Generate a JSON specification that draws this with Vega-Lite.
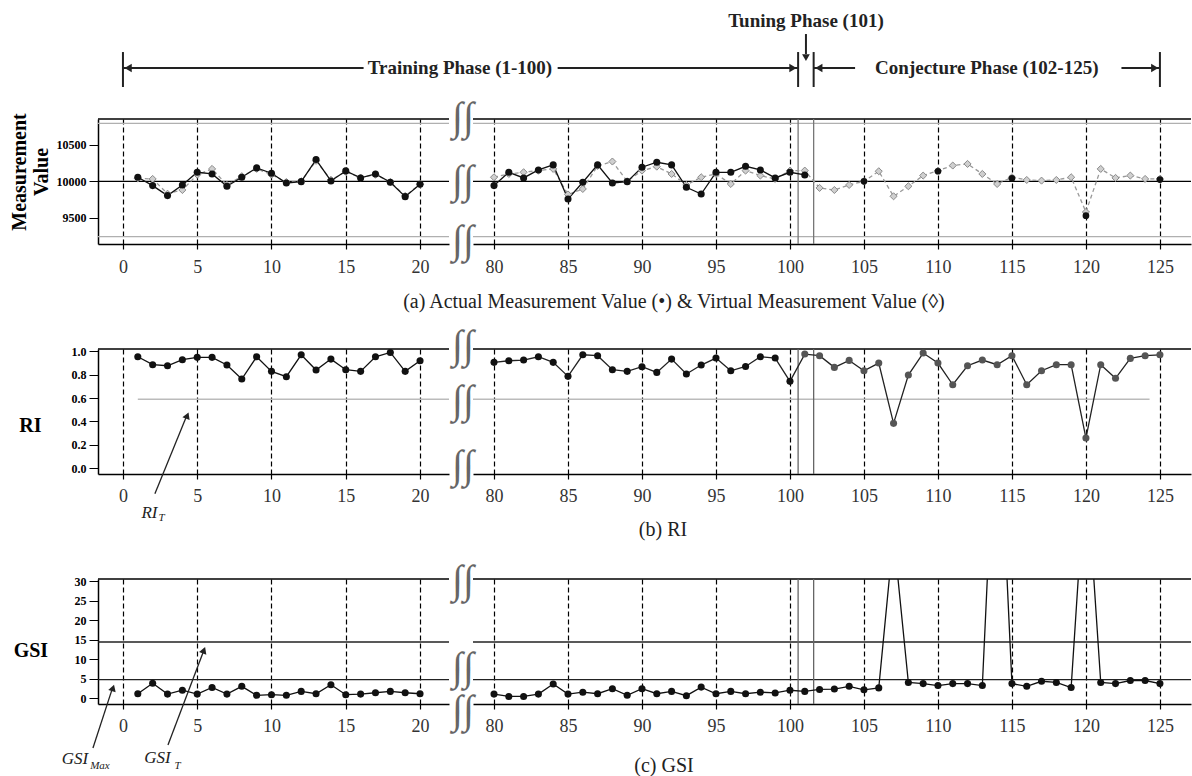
{
"$schema":"https://vega.github.io/schema/vega-lite/v6.json",
"padding":{"left":9,"top":12,"right":0,"bottom":0},
"background":"#ffffff",
"config":{"view":{"stroke":null},"font":"Liberation Serif"},
"datasets":{
"one":[{"id":1}],
"act":[{"x":1,"v":10055},{"x":2,"v":9941},{"x":3,"v":9804},{"x":4,"v":9950},{"x":5,"v":10123},{"x":6,"v":10100},{"x":7,"v":9932},{"x":8,"v":10055},{"x":9,"v":10183},{"x":10,"v":10110},{"x":11,"v":9977},{"x":12,"v":9995},{"x":13,"v":10297},{"x":14,"v":10005},{"x":15,"v":10142},{"x":16,"v":10046},{"x":17,"v":10100},{"x":18,"v":9986},{"x":19,"v":9790},{"x":20,"v":9959},
{"x":80,"v":9941},{"x":81,"v":10123},{"x":82,"v":10046},{"x":83,"v":10155},{"x":84,"v":10224},{"x":85,"v":9758},{"x":86,"v":9986},{"x":87,"v":10224},{"x":88,"v":9977},{"x":89,"v":9995},{"x":90,"v":10192},{"x":91,"v":10260},{"x":92,"v":10224},{"x":93,"v":9918},{"x":94,"v":9826},{"x":95,"v":10123},{"x":96,"v":10123},{"x":97,"v":10205},{"x":98,"v":10155},{"x":99,"v":10046},{"x":100,"v":10123},{"x":101,"v":10087}],
"virt":[{"x":1,"v":10040},{"x":2,"v":10032},{"x":3,"v":9830},{"x":4,"v":9881},{"x":5,"v":10090},{"x":6,"v":10169},{"x":7,"v":9950},{"x":8,"v":10070},{"x":9,"v":10170},{"x":10,"v":10090},{"x":11,"v":9990},{"x":12,"v":10000},{"x":13,"v":10280},{"x":14,"v":10020},{"x":15,"v":10130},{"x":16,"v":10050},{"x":17,"v":10090},{"x":18,"v":9990},{"x":19,"v":9800},{"x":20,"v":9960},
{"x":80,"v":10055},{"x":81,"v":10100},{"x":82,"v":10123},{"x":83,"v":10146},{"x":84,"v":10169},{"x":85,"v":9820},{"x":86,"v":9895},{"x":87,"v":10210},{"x":88,"v":10270},{"x":89,"v":10000},{"x":90,"v":10146},{"x":91,"v":10200},{"x":92,"v":10100},{"x":93,"v":9950},{"x":94,"v":10055},{"x":95,"v":10100},{"x":96,"v":9963},{"x":97,"v":10146},{"x":98,"v":10078},{"x":99,"v":10032},{"x":100,"v":10146},{"x":101,"v":10146},
{"x":102,"v":9909},{"x":103,"v":9881},{"x":104,"v":9950},{"x":105,"v":10000},{"x":106,"v":10137},{"x":107,"v":9795},{"x":108,"v":9932},{"x":109,"v":10078},{"x":110,"v":10146},{"x":111,"v":10215},{"x":112,"v":10237},{"x":113,"v":10100},{"x":114,"v":9963},{"x":115,"v":10055},{"x":116,"v":10018},{"x":117,"v":10009},{"x":118,"v":10018},{"x":119,"v":10055},{"x":120,"v":9580},{"x":121,"v":10169},{"x":122,"v":10046},{"x":123,"v":10078},{"x":124,"v":10032},{"x":125,"v":10032}],
"samp":[{"x":105,"v":10000},{"x":110,"v":10137},{"x":115,"v":10041},{"x":120,"v":9530},{"x":125,"v":10023}],
"ri":[{"x":1,"v":0.954},{"x":2,"v":0.886},{"x":3,"v":0.877},{"x":4,"v":0.929},{"x":5,"v":0.949},{"x":6,"v":0.949},{"x":7,"v":0.883},{"x":8,"v":0.763},{"x":9,"v":0.954},{"x":10,"v":0.829},{"x":11,"v":0.783},{"x":12,"v":0.971},{"x":13,"v":0.84},{"x":14,"v":0.934},{"x":15,"v":0.843},{"x":16,"v":0.829},{"x":17,"v":0.954},{"x":18,"v":0.991},{"x":19,"v":0.829},{"x":20,"v":0.92},
{"x":80,"v":0.906},{"x":81,"v":0.92},{"x":82,"v":0.926},{"x":83,"v":0.954},{"x":84,"v":0.906},{"x":85,"v":0.786},{"x":86,"v":0.971},{"x":87,"v":0.963},{"x":88,"v":0.843},{"x":89,"v":0.829},{"x":90,"v":0.869},{"x":91,"v":0.82},{"x":92,"v":0.934},{"x":93,"v":0.806},{"x":94,"v":0.883},{"x":95,"v":0.943},{"x":96,"v":0.834},{"x":97,"v":0.871},{"x":98,"v":0.954},{"x":99,"v":0.943},{"x":100,"v":0.743},{"x":101,"v":0.977},{"x":102,"v":0.963},{"x":103,"v":0.863},{"x":104,"v":0.923},{"x":105,"v":0.834},{"x":106,"v":0.9},{"x":107,"v":0.383},{"x":108,"v":0.797},{"x":109,"v":0.986},{"x":110,"v":0.9},{"x":111,"v":0.714},{"x":112,"v":0.877},{"x":113,"v":0.926},{"x":114,"v":0.886},{"x":115,"v":0.963},{"x":116,"v":0.714},{"x":117,"v":0.834},{"x":118,"v":0.886},{"x":119,"v":0.886},{"x":120,"v":0.257},{"x":121,"v":0.886},{"x":122,"v":0.769},{"x":123,"v":0.94},{"x":124,"v":0.963},{"x":125,"v":0.971}],
"gsi":[{"x":1,"v":1.1},{"x":2,"v":3.8},{"x":3,"v":1.0},{"x":4,"v":2.0},{"x":5,"v":1.0},{"x":6,"v":2.7},{"x":7,"v":1.0},{"x":8,"v":3.0},{"x":9,"v":0.7},{"x":10,"v":0.85},{"x":11,"v":0.7},{"x":12,"v":1.7},{"x":13,"v":1.1},{"x":14,"v":3.4},{"x":15,"v":0.85},{"x":16,"v":1.0},{"x":17,"v":1.35},{"x":18,"v":1.7},{"x":19,"v":1.35},{"x":20,"v":1.1},
{"x":80,"v":1.0},{"x":81,"v":0.4},{"x":82,"v":0.4},{"x":83,"v":1.0},{"x":84,"v":3.6},{"x":85,"v":1.0},{"x":86,"v":1.5},{"x":87,"v":1.1},{"x":88,"v":2.4},{"x":89,"v":0.7},{"x":90,"v":2.4},{"x":91,"v":1.1},{"x":92,"v":1.7},{"x":93,"v":0.6},{"x":94,"v":2.8},{"x":95,"v":1.1},{"x":96,"v":1.7},{"x":97,"v":1.1},{"x":98,"v":1.5},{"x":99,"v":1.3},{"x":100,"v":2.0},{"x":101,"v":1.7},{"x":102,"v":2.2},{"x":103,"v":2.3},{"x":104,"v":3.0},{"x":105,"v":2.1},{"x":106,"v":2.6},{"x":107,"v":42},{"x":108,"v":4.0},{"x":109,"v":3.7},{"x":110,"v":3.2},{"x":111,"v":3.7},{"x":112,"v":3.7},{"x":113,"v":3.2},{"x":114,"v":85},{"x":115,"v":3.7},{"x":116,"v":3.0},{"x":117,"v":4.3},{"x":118,"v":4.0},{"x":119,"v":2.7},{"x":120,"v":61},{"x":121,"v":4.0},{"x":122,"v":3.7},{"x":123,"v":4.5},{"x":124,"v":4.5},{"x":125,"v":3.7}]
},
"columns":2,
"spacing":{"row":105,"column":24},
"bounds":"flush",
"concat":[
 {"width":351,"height":125,"layer":[
  {"data":{"name":"one"},"mark":{"type":"rule","color":"#000","strokeWidth":1.5},"encoding":{"y":{"datum":10851}}},
  {"data":{"name":"one"},"mark":{"type":"rule","color":"#000","strokeWidth":1.3},"encoding":{"y":{"datum":10000}}},
  {"data":{"name":"one"},"mark":{"type":"rule","color":"#b0b0b0","strokeWidth":1.3},"encoding":{"y":{"datum":10792}}},
  {"data":{"name":"one"},"mark":{"type":"rule","color":"#b0b0b0","strokeWidth":1.3},"encoding":{"y":{"datum":9243}}},
  {"data":{"name":"virt"},"transform":[{"filter":"datum.x <= 20"}],"mark":{"type":"line","color":"#999","strokeDash":[4,3],"strokeWidth":1.3},"encoding":{"x":{"field":"x","type":"quantitative"},"y":{"field":"v","type":"quantitative"}}},
  {"data":{"name":"act"},"transform":[{"filter":"datum.x <= 20"}],"mark":{"type":"line","color":"#111","strokeWidth":1.3},
   "encoding":{"x":{"field":"x","type":"quantitative","scale":{"domain":[-1.68,21.95],"nice":false,"zero":false},"axis":{"values":[0,5,10,15,20],"tickCount":20,"title":null,"grid":true,"gridColor":"#000","gridDash":[5,3],"gridWidth":1.2,"gridOpacity":1,"domain":true,"domainColor":"#000","domainWidth":1.5,"ticks":true,"tickColor":"#000","tickSize":5,"tickWidth":1.2,"labels":true,"labelOverlap":false,"labelFontSize":18,"labelColor":"#333","labelPadding":9,"labelFont":"Liberation Serif"}},
   "y":{"field":"v","type":"quantitative","scale":{"domain":[9143,10851],"nice":false,"zero":false},"axis":{"values":[9500,10000,10500],"tickCount":20,"format":"d","title":null,"labels":true,"labelOverlap":false,"labelFont":"Liberation Serif","labelFontSize":12,"labelFontWeight":"bold","labelColor":"#000","ticks":true,"tickColor":"#000","tickSize":9,"labelPadding":3,"domain":true,"domainColor":"#000","domainWidth":1.5,"grid":false}}}},
  {"data":{"name":"virt"},"transform":[{"filter":"datum.x <= 20"}],"mark":{"type":"point","shape":"diamond","filled":true,"fill":"#cfcfcf","stroke":"#8a8a8a","strokeWidth":1,"size":50,"opacity":1},"encoding":{"x":{"field":"x","type":"quantitative"},"y":{"field":"v","type":"quantitative"}}},
  {"data":{"name":"act"},"transform":[{"filter":"datum.x <= 20"}],"mark":{"type":"circle","color":"#111","size":50,"opacity":1},"encoding":{"x":{"field":"x","type":"quantitative"},"y":{"field":"v","type":"quantitative"}}},
  {"data":{"name":"one"},"mark":{"type":"text","text":"Measurement","angle":270,"fontSize":20,"fontWeight":"bold","font":"Liberation Serif","color":"#000","baseline":"middle","align":"center"},"encoding":{"x":{"datum":-6.94},"y":{"datum":10127}}},
  {"data":{"name":"one"},"mark":{"type":"text","text":"Value","angle":270,"fontSize":20,"fontWeight":"bold","font":"Liberation Serif","color":"#000","baseline":"middle","align":"center"},"encoding":{"x":{"datum":-5.45},"y":{"datum":10127}}},
  {"data":{"name":"one"},"mark":{"type":"rule","color":"#222","strokeWidth":2},"encoding":{"x":{"datum":0},"y":{"datum":11288},"y2":{"datum":11766}}},
  {"data":{"name":"one"},"mark":{"type":"rule","color":"#222","strokeWidth":2},"encoding":{"x":{"datum":0},"x2":{"datum":16.2},"y":{"datum":11548}}},
  {"data":{"name":"one"},"mark":{"type":"point","shape":"triangle-left","filled":true,"size":70,"color":"#222","opacity":1},"encoding":{"x":{"datum":0.35},"y":{"datum":11548}}},
  {"data":{"name":"one"},"mark":{"type":"text","text":"Training Phase (1-100)","fontSize":19,"fontWeight":"bold","font":"Liberation Serif","color":"#222","baseline":"middle","align":"center"},"encoding":{"x":{"datum":22.69},"y":{"datum":11548}}}
 ]},
 {"width":718,"height":125,"layer":[
  {"data":{"name":"one"},"mark":{"type":"rule","color":"#000","strokeWidth":1.5},"encoding":{"y":{"datum":10851}}},
  {"data":{"name":"one"},"mark":{"type":"rule","color":"#000","strokeWidth":1.3},"encoding":{"y":{"datum":10000}}},
  {"data":{"name":"one"},"mark":{"type":"rule","color":"#b0b0b0","strokeWidth":1.3},"encoding":{"y":{"datum":10792}}},
  {"data":{"name":"one"},"mark":{"type":"rule","color":"#b0b0b0","strokeWidth":1.3},"encoding":{"y":{"datum":9243}}},
  {"data":{"name":"one"},"mark":{"type":"rule","color":"#777","strokeWidth":1.3},"encoding":{"x":{"datum":100.55}}},
  {"data":{"name":"one"},"mark":{"type":"rule","color":"#777","strokeWidth":1.3},"encoding":{"x":{"datum":101.6}}},
  {"data":{"name":"virt"},"transform":[{"filter":"datum.x >= 80"}],"mark":{"type":"line","color":"#999","strokeDash":[4,3],"strokeWidth":1.3},"encoding":{"x":{"field":"x","type":"quantitative"},"y":{"field":"v","type":"quantitative"}}},
  {"data":{"name":"act"},"transform":[{"filter":"datum.x >= 80"}],"mark":{"type":"line","color":"#111","strokeWidth":1.3},
   "encoding":{"x":{"field":"x","type":"quantitative","scale":{"domain":[78.58,127.1],"nice":false,"zero":false},"axis":{"values":[80,85,90,95,100,105,110,115,120,125],"tickCount":30,"title":null,"grid":true,"gridColor":"#000","gridDash":[5,3],"gridWidth":1.2,"gridOpacity":1,"domain":true,"domainColor":"#000","domainWidth":1.5,"ticks":true,"tickColor":"#000","tickSize":5,"tickWidth":1.2,"labels":true,"labelOverlap":false,"labelFontSize":18,"labelColor":"#333","labelPadding":9,"labelFont":"Liberation Serif"}},
   "y":{"field":"v","type":"quantitative","scale":{"domain":[9143,10851],"nice":false,"zero":false},"axis":{"title":null,"domain":false,"ticks":false,"labels":false,"grid":false}}}},
  {"data":{"name":"virt"},"transform":[{"filter":"datum.x >= 80"}],"mark":{"type":"point","shape":"diamond","filled":true,"fill":"#cfcfcf","stroke":"#8a8a8a","strokeWidth":1,"size":50,"opacity":1},"encoding":{"x":{"field":"x","type":"quantitative"},"y":{"field":"v","type":"quantitative"}}},
  {"data":{"name":"act"},"transform":[{"filter":"datum.x >= 80"}],"mark":{"type":"circle","color":"#111","size":50,"opacity":1},"encoding":{"x":{"field":"x","type":"quantitative"},"y":{"field":"v","type":"quantitative"}}},
  {"data":{"name":"samp"},"mark":{"type":"circle","color":"#111","size":45,"opacity":1},"encoding":{"x":{"field":"x","type":"quantitative"},"y":{"field":"v","type":"quantitative"}}},
  {"data":{"name":"one"},"mark":{"type":"text","text":"∫∫","fontSize":40,"fontStyle":"italic","font":"Liberation Serif","color":"#666","baseline":"middle","align":"center","dx":-10},"encoding":{"x":{"datum":78.58},"y":{"datum":10860}}},
  {"data":{"name":"one"},"mark":{"type":"text","text":"∫∫","fontSize":40,"fontStyle":"italic","font":"Liberation Serif","color":"#666","baseline":"middle","align":"center","dx":-10},"encoding":{"x":{"datum":78.58},"y":{"datum":10000}}},
  {"data":{"name":"one"},"mark":{"type":"text","text":"∫∫","fontSize":40,"fontStyle":"italic","font":"Liberation Serif","color":"#666","baseline":"middle","align":"center","dx":-10},"encoding":{"x":{"datum":78.58},"y":{"datum":9190}}},
  {"data":{"name":"one"},"mark":{"type":"rule","color":"#222","strokeWidth":2},"encoding":{"x":{"datum":84.3},"x2":{"datum":100.55},"y":{"datum":11548}}},
  {"data":{"name":"one"},"mark":{"type":"point","shape":"triangle-right","filled":true,"size":70,"color":"#222","opacity":1},"encoding":{"x":{"datum":100.2},"y":{"datum":11548}}},
  {"data":{"name":"one"},"mark":{"type":"rule","color":"#222","strokeWidth":2},"encoding":{"x":{"datum":100.55},"y":{"datum":11288},"y2":{"datum":11766}}},
  {"data":{"name":"one"},"mark":{"type":"rule","color":"#222","strokeWidth":2},"encoding":{"x":{"datum":101.6},"y":{"datum":11288},"y2":{"datum":11766}}},
  {"data":{"name":"one"},"mark":{"type":"rule","color":"#222","strokeWidth":2},"encoding":{"x":{"datum":101.08},"y":{"datum":12012},"y2":{"datum":11739}}},
  {"data":{"name":"one"},"mark":{"type":"point","shape":"triangle-down","filled":true,"size":60,"color":"#222","opacity":1},"encoding":{"x":{"datum":101.08},"y":{"datum":11690}}},
  {"data":{"name":"one"},"mark":{"type":"text","text":"Tuning Phase (101)","fontSize":19,"fontWeight":"bold","font":"Liberation Serif","color":"#222","baseline":"middle","align":"center"},"encoding":{"x":{"datum":101.08},"y":{"datum":12190}}},
  {"data":{"name":"one"},"mark":{"type":"rule","color":"#222","strokeWidth":2},"encoding":{"x":{"datum":101.6},"x2":{"datum":104.4},"y":{"datum":11548}}},
  {"data":{"name":"one"},"mark":{"type":"point","shape":"triangle-left","filled":true,"size":70,"color":"#222","opacity":1},"encoding":{"x":{"datum":101.95},"y":{"datum":11548}}},
  {"data":{"name":"one"},"mark":{"type":"text","text":"Conjecture Phase (102-125)","fontSize":19,"fontWeight":"bold","font":"Liberation Serif","color":"#222","baseline":"middle","align":"center"},"encoding":{"x":{"datum":113.3},"y":{"datum":11548}}},
  {"data":{"name":"one"},"mark":{"type":"rule","color":"#222","strokeWidth":2},"encoding":{"x":{"datum":122.4},"x2":{"datum":125},"y":{"datum":11548}}},
  {"data":{"name":"one"},"mark":{"type":"point","shape":"triangle-right","filled":true,"size":70,"color":"#222","opacity":1},"encoding":{"x":{"datum":124.65},"y":{"datum":11548}}},
  {"data":{"name":"one"},"mark":{"type":"rule","color":"#222","strokeWidth":2},"encoding":{"x":{"datum":125},"y":{"datum":11288},"y2":{"datum":11766}}},
  {"data":{"name":"one"},"mark":{"type":"text","text":"(a) Actual Measurement Value (•) & Virtual Measurement Value (◊)","fontSize":20,"font":"Liberation Serif","color":"#222","baseline":"middle","align":"center"},"encoding":{"x":{"datum":92.16},"y":{"datum":8351}}}
 ]},
 {"width":351,"height":125,"layer":[
  {"data":{"name":"one"},"mark":{"type":"rule","color":"#000","strokeWidth":1.5},"encoding":{"y":{"datum":1.0206}}},
  {"data":{"name":"one"},"mark":{"type":"rule","color":"#bbb","strokeWidth":1.5},"encoding":{"x":{"datum":1},"x2":{"datum":21.95},"y":{"datum":0.59}}},
  {"data":{"name":"ri"},"transform":[{"filter":"datum.x <= 20"}],"mark":{"type":"line","color":"#111","strokeWidth":1.3},
   "encoding":{"x":{"field":"x","type":"quantitative","scale":{"domain":[-1.68,21.95],"nice":false,"zero":false},"axis":{"values":[0,5,10,15,20],"tickCount":20,"title":null,"grid":true,"gridColor":"#000","gridDash":[5,3],"gridWidth":1.2,"gridOpacity":1,"domain":true,"domainColor":"#000","domainWidth":1.5,"ticks":true,"tickColor":"#000","tickSize":5,"tickWidth":1.2,"labels":true,"labelOverlap":false,"labelFontSize":18,"labelColor":"#333","labelPadding":8,"labelFont":"Liberation Serif"}},
   "y":{"field":"v","type":"quantitative","scale":{"domain":[-0.0514,1.0206],"nice":false,"zero":false},"axis":{"values":[0,0.2,0.4,0.6,0.8,1.0],"tickCount":20,"format":".1f","title":null,"labels":true,"labelOverlap":false,"labelFont":"Liberation Serif","labelFontSize":12,"labelFontWeight":"bold","labelColor":"#000","ticks":true,"tickColor":"#000","tickSize":9,"labelPadding":3,"domain":true,"domainColor":"#000","domainWidth":1.5,"grid":false}}}},
  {"data":{"name":"ri"},"transform":[{"filter":"datum.x <= 20"}],"mark":{"type":"circle","color":"#111","size":50,"opacity":1},"encoding":{"x":{"field":"x","type":"quantitative"},"y":{"field":"v","type":"quantitative"}}},
  {"data":{"name":"one"},"mark":{"type":"text","text":"RI","fontSize":20,"fontWeight":"bold","font":"Liberation Serif","color":"#000","baseline":"middle","align":"center"},"encoding":{"x":{"datum":-6.23},"y":{"datum":0.363}}},
  {"data":{"name":"one"},"mark":{"type":"rule","color":"#222","strokeWidth":1.3},"encoding":{"x":{"datum":2.15},"y":{"datum":-0.22},"x2":{"datum":4.3},"y2":{"datum":0.45}}},
  {"data":{"name":"one"},"mark":{"type":"point","shape":"triangle-up","angle":22,"filled":true,"size":60,"color":"#222","opacity":1},"encoding":{"x":{"datum":4.33},"y":{"datum":0.45}}},
  {"data":{"name":"one"},"mark":{"type":"text","text":"RI","fontSize":17,"fontStyle":"italic","font":"Liberation Serif","color":"#222","baseline":"middle","align":"center"},"encoding":{"x":{"datum":1.78},"y":{"datum":-0.383}}},
  {"data":{"name":"one"},"mark":{"type":"text","text":"T","fontSize":11,"fontStyle":"italic","font":"Liberation Serif","color":"#222","baseline":"middle","align":"center"},"encoding":{"x":{"datum":2.6},"y":{"datum":-0.43}}}
 ]},
 {"width":718,"height":125,"layer":[
  {"data":{"name":"one"},"mark":{"type":"rule","color":"#000","strokeWidth":1.5},"encoding":{"y":{"datum":1.0206}}},
  {"data":{"name":"one"},"mark":{"type":"rule","color":"#bbb","strokeWidth":1.5},"encoding":{"x":{"datum":78.58},"x2":{"datum":124.3},"y":{"datum":0.59}}},
  {"data":{"name":"one"},"mark":{"type":"rule","color":"#666","strokeWidth":1.3},"encoding":{"x":{"datum":100.55}}},
  {"data":{"name":"one"},"mark":{"type":"rule","color":"#666","strokeWidth":1.3},"encoding":{"x":{"datum":101.6}}},
  {"data":{"name":"ri"},"transform":[{"filter":"datum.x >= 80"}],"mark":{"type":"line","color":"#222","strokeWidth":1.3},
   "encoding":{"x":{"field":"x","type":"quantitative","scale":{"domain":[78.58,127.1],"nice":false,"zero":false},"axis":{"values":[80,85,90,95,100,105,110,115,120,125],"tickCount":30,"title":null,"grid":true,"gridColor":"#000","gridDash":[5,3],"gridWidth":1.2,"gridOpacity":1,"domain":true,"domainColor":"#000","domainWidth":1.5,"ticks":true,"tickColor":"#000","tickSize":5,"tickWidth":1.2,"labels":true,"labelOverlap":false,"labelFontSize":18,"labelColor":"#333","labelPadding":8,"labelFont":"Liberation Serif"}},
   "y":{"field":"v","type":"quantitative","scale":{"domain":[-0.0514,1.0206],"nice":false,"zero":false},"axis":{"title":null,"domain":false,"ticks":false,"labels":false,"grid":false}}}},
  {"data":{"name":"ri"},"transform":[{"filter":"datum.x >= 80 && datum.x <= 100"}],"mark":{"type":"circle","color":"#111","size":50,"opacity":1},"encoding":{"x":{"field":"x","type":"quantitative"},"y":{"field":"v","type":"quantitative"}}},
  {"data":{"name":"ri"},"transform":[{"filter":"datum.x > 100"}],"mark":{"type":"circle","color":"#555","size":50,"opacity":1},"encoding":{"x":{"field":"x","type":"quantitative"},"y":{"field":"v","type":"quantitative"}}},
  {"data":{"name":"one"},"mark":{"type":"text","text":"∫∫","fontSize":40,"fontStyle":"italic","font":"Liberation Serif","color":"#666","baseline":"middle","align":"center","dx":-10},"encoding":{"x":{"datum":78.58},"y":{"datum":1.05}}},
  {"data":{"name":"one"},"mark":{"type":"text","text":"∫∫","fontSize":40,"fontStyle":"italic","font":"Liberation Serif","color":"#666","baseline":"middle","align":"center","dx":-10},"encoding":{"x":{"datum":78.58},"y":{"datum":0.577}}},
  {"data":{"name":"one"},"mark":{"type":"text","text":"∫∫","fontSize":40,"fontStyle":"italic","font":"Liberation Serif","color":"#666","baseline":"middle","align":"center","dx":-10},"encoding":{"x":{"datum":78.58},"y":{"datum":0.02}}},
  {"data":{"name":"one"},"mark":{"type":"text","text":"(b) RI","fontSize":20,"font":"Liberation Serif","color":"#222","baseline":"middle","align":"center"},"encoding":{"x":{"datum":91.42},"y":{"datum":-0.529}}}
 ]},
 {"width":351,"height":125,"layer":[
  {"data":{"name":"one"},"mark":{"type":"rule","color":"#000","strokeWidth":1.5},"encoding":{"y":{"datum":30.59}}},
  {"data":{"name":"one"},"mark":{"type":"rule","color":"#222","strokeWidth":1.3},"encoding":{"y":{"datum":14.4}}},
  {"data":{"name":"one"},"mark":{"type":"rule","color":"#222","strokeWidth":1.3},"encoding":{"y":{"datum":4.7}}},
  {"data":{"name":"gsi"},"transform":[{"filter":"datum.x <= 20"}],"mark":{"type":"line","color":"#111","strokeWidth":1.3},
   "encoding":{"x":{"field":"x","type":"quantitative","scale":{"domain":[-1.68,21.95],"nice":false,"zero":false},"axis":{"values":[0,5,10,15,20],"tickCount":20,"title":null,"grid":true,"gridColor":"#000","gridDash":[5,3],"gridWidth":1.2,"gridOpacity":1,"domain":true,"domainColor":"#000","domainWidth":1.5,"ticks":true,"tickColor":"#000","tickSize":5,"tickWidth":1.2,"labels":true,"labelOverlap":false,"labelFontSize":18,"labelColor":"#333","labelPadding":8,"labelFont":"Liberation Serif"}},
   "y":{"field":"v","type":"quantitative","scale":{"domain":[-1.54,30.59],"nice":false,"zero":false},"axis":{"values":[0,5,10,15,20,25,30],"tickCount":20,"format":"d","title":null,"labels":true,"labelOverlap":false,"labelFont":"Liberation Serif","labelFontSize":12,"labelFontWeight":"bold","labelColor":"#000","ticks":true,"tickColor":"#000","tickSize":9,"labelPadding":3,"domain":true,"domainColor":"#000","domainWidth":1.5,"grid":false}}}},
  {"data":{"name":"gsi"},"transform":[{"filter":"datum.x <= 20"}],"mark":{"type":"circle","color":"#111","size":50,"opacity":1},"encoding":{"x":{"field":"x","type":"quantitative"},"y":{"field":"v","type":"quantitative"}}},
  {"data":{"name":"one"},"mark":{"type":"text","text":"GSI","fontSize":20,"fontWeight":"bold","font":"Liberation Serif","color":"#000","baseline":"middle","align":"center"},"encoding":{"x":{"datum":-6.2},"y":{"datum":12.08}}},
  {"data":{"name":"one"},"mark":{"type":"rule","color":"#222","strokeWidth":1.3},"encoding":{"x":{"datum":-2.02},"y":{"datum":-12.85},"x2":{"datum":-0.7},"y2":{"datum":2.6}}},
  {"data":{"name":"one"},"mark":{"type":"point","shape":"triangle-up","angle":18,"filled":true,"size":60,"color":"#222","opacity":1},"encoding":{"x":{"datum":-0.67},"y":{"datum":2.6}}},
  {"data":{"name":"one"},"mark":{"type":"rule","color":"#222","strokeWidth":1.3},"encoding":{"x":{"datum":3.03},"y":{"datum":-12.1},"x2":{"datum":5.45},"y2":{"datum":12.3}}},
  {"data":{"name":"one"},"mark":{"type":"point","shape":"triangle-up","angle":21,"filled":true,"size":60,"color":"#222","opacity":1},"encoding":{"x":{"datum":5.45},"y":{"datum":12.3}}},
  {"data":{"name":"one"},"mark":{"type":"text","text":"GSI","fontSize":17,"fontStyle":"italic","font":"Liberation Serif","color":"#222","baseline":"middle","align":"center"},"encoding":{"x":{"datum":-3.23},"y":{"datum":-15.7}}},
  {"data":{"name":"one"},"mark":{"type":"text","text":"Max","fontSize":11,"fontStyle":"italic","font":"Liberation Serif","color":"#222","baseline":"middle","align":"center"},"encoding":{"x":{"datum":-1.55},"y":{"datum":-17.6}}},
  {"data":{"name":"one"},"mark":{"type":"text","text":"GSI","fontSize":17,"fontStyle":"italic","font":"Liberation Serif","color":"#222","baseline":"middle","align":"center"},"encoding":{"x":{"datum":2.32},"y":{"datum":-15.4}}},
  {"data":{"name":"one"},"mark":{"type":"text","text":"T","fontSize":11,"fontStyle":"italic","font":"Liberation Serif","color":"#222","baseline":"middle","align":"center"},"encoding":{"x":{"datum":3.67},"y":{"datum":-17.5}}}
 ]},
 {"width":718,"height":125,"layer":[
  {"data":{"name":"one"},"mark":{"type":"rule","color":"#000","strokeWidth":1.5},"encoding":{"y":{"datum":30.59}}},
  {"data":{"name":"one"},"mark":{"type":"rule","color":"#222","strokeWidth":1.3},"encoding":{"y":{"datum":14.4}}},
  {"data":{"name":"one"},"mark":{"type":"rule","color":"#222","strokeWidth":1.3},"encoding":{"y":{"datum":4.7}}},
  {"data":{"name":"one"},"mark":{"type":"rule","color":"#666","strokeWidth":1.3},"encoding":{"x":{"datum":100.55}}},
  {"data":{"name":"one"},"mark":{"type":"rule","color":"#666","strokeWidth":1.3},"encoding":{"x":{"datum":101.6}}},
  {"data":{"name":"gsi"},"transform":[{"filter":"datum.x >= 80"}],"mark":{"type":"line","color":"#111","strokeWidth":1.3,"clip":true},
   "encoding":{"x":{"field":"x","type":"quantitative","scale":{"domain":[78.58,127.1],"nice":false,"zero":false},"axis":{"values":[80,85,90,95,100,105,110,115,120,125],"tickCount":30,"title":null,"grid":true,"gridColor":"#000","gridDash":[5,3],"gridWidth":1.2,"gridOpacity":1,"domain":true,"domainColor":"#000","domainWidth":1.5,"ticks":true,"tickColor":"#000","tickSize":5,"tickWidth":1.2,"labels":true,"labelOverlap":false,"labelFontSize":18,"labelColor":"#333","labelPadding":8,"labelFont":"Liberation Serif"}},
   "y":{"field":"v","type":"quantitative","scale":{"domain":[-1.54,30.59],"nice":false,"zero":false},"axis":{"title":null,"domain":false,"ticks":false,"labels":false,"grid":false}}}},
  {"data":{"name":"gsi"},"transform":[{"filter":"datum.x >= 80"}],"mark":{"type":"circle","color":"#111","size":50,"opacity":1,"clip":true},"encoding":{"x":{"field":"x","type":"quantitative"},"y":{"field":"v","type":"quantitative"}}},
  {"data":{"name":"one"},"mark":{"type":"text","text":"∫∫","fontSize":40,"fontStyle":"italic","font":"Liberation Serif","color":"#666","baseline":"middle","align":"center","dx":-10},"encoding":{"x":{"datum":78.58},"y":{"datum":30.1}}},
  {"data":{"name":"one"},"mark":{"type":"text","text":"∫∫","fontSize":40,"fontStyle":"italic","font":"Liberation Serif","color":"#666","baseline":"middle","align":"center","dx":-10},"encoding":{"x":{"datum":78.58},"y":{"datum":7.7}}},
  {"data":{"name":"one"},"mark":{"type":"text","text":"∫∫","fontSize":40,"fontStyle":"italic","font":"Liberation Serif","color":"#666","baseline":"middle","align":"center","dx":-10},"encoding":{"x":{"datum":78.58},"y":{"datum":-3.3}}},
  {"data":{"name":"one"},"mark":{"type":"text","text":"(c)  GSI","fontSize":20,"font":"Liberation Serif","color":"#222","baseline":"middle","align":"center"},"encoding":{"x":{"datum":91.49},"y":{"datum":-17.48}}}
 ]}
]
}
